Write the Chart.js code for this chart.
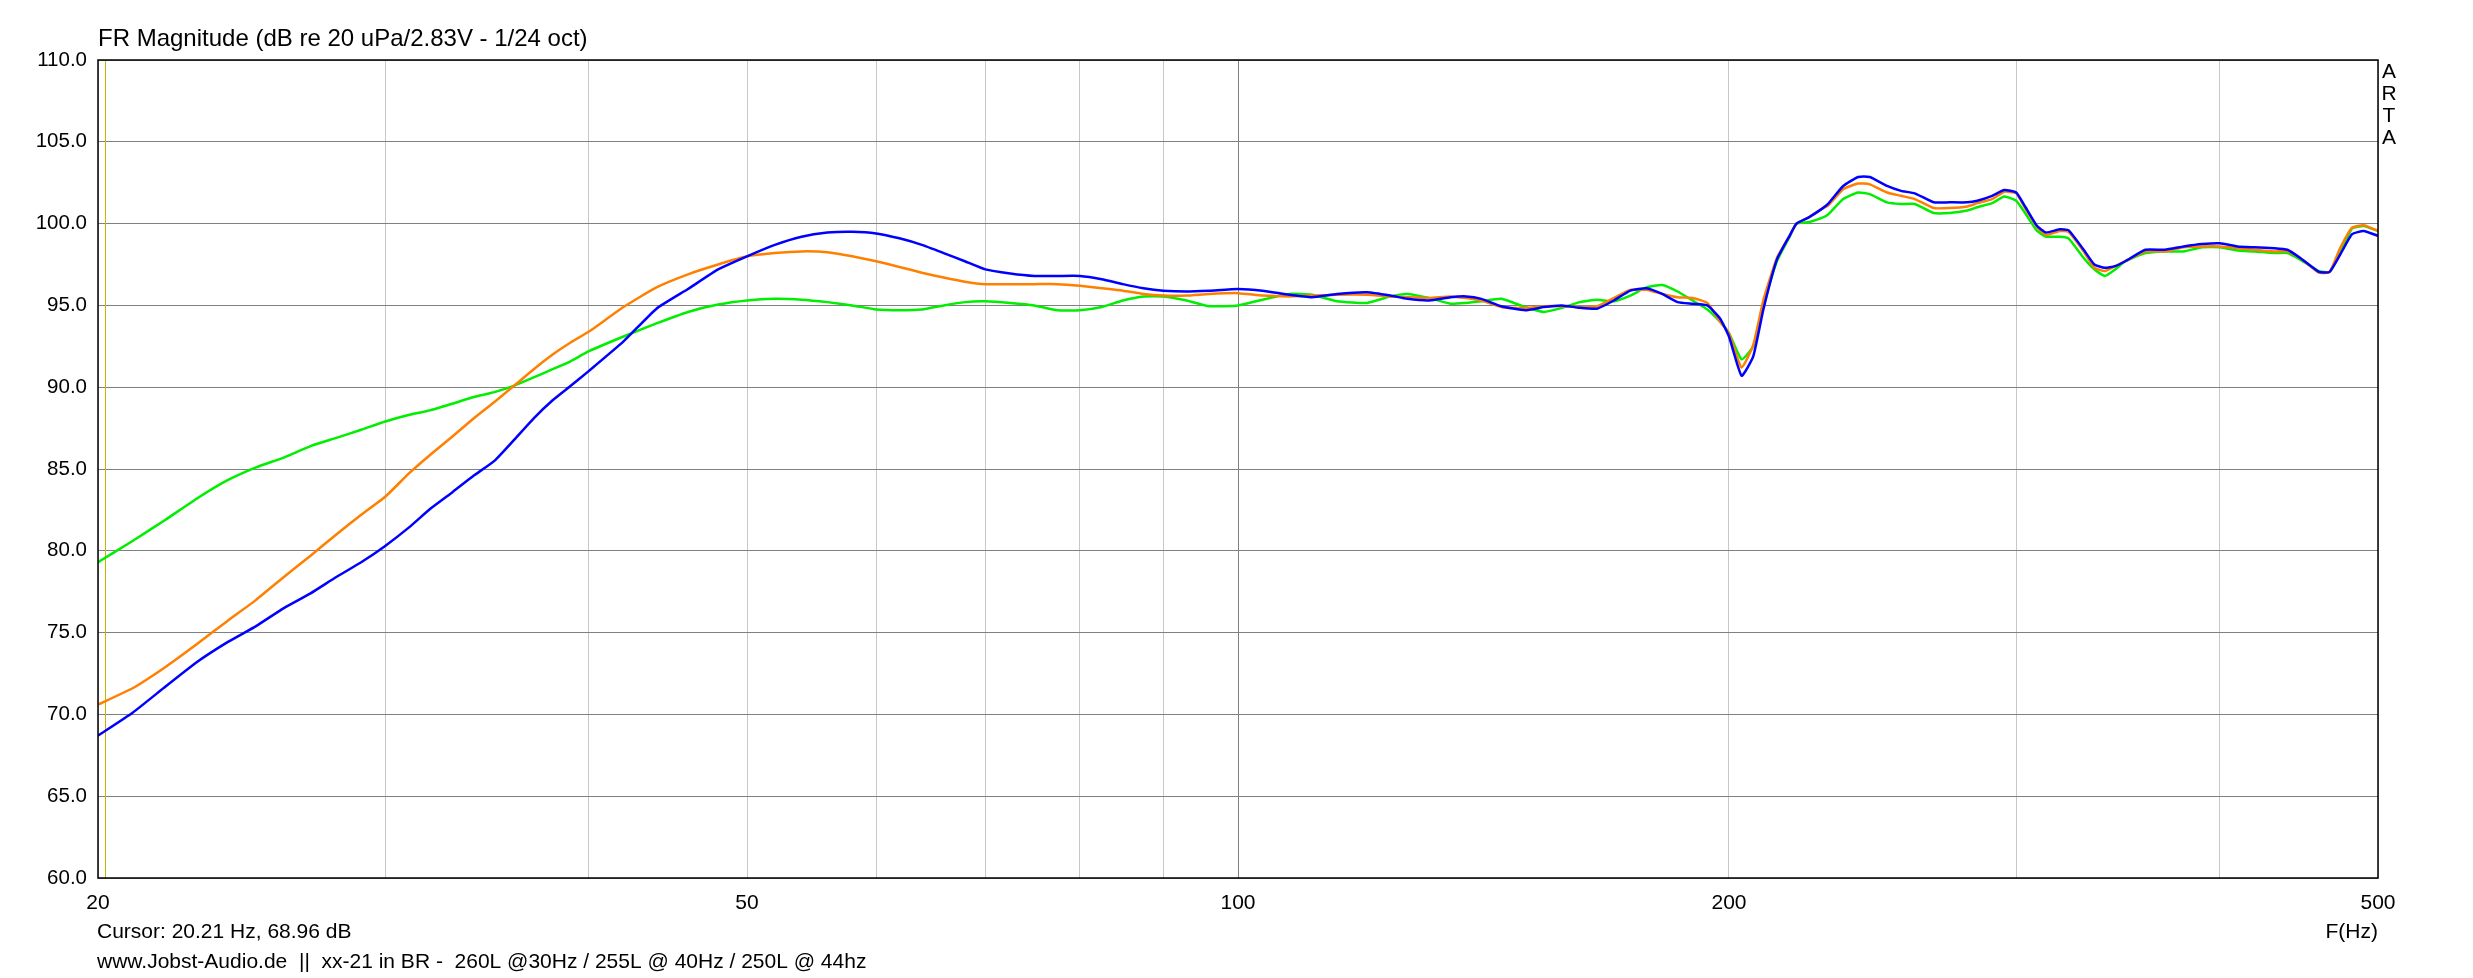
<!DOCTYPE html>
<html>
<head>
<meta charset="utf-8">
<script src="https://cdn.jsdelivr.net/npm/chart.js@4.4.1/dist/chart.umd.min.js"></script>
<style>
    html, body { margin: 0; padding: 0; background: #ffffff; }
    canvas { display: block; }
</style>
</head>
<body>
<canvas id="frChart" width="2473" height="978"></canvas>
<script>
// Frequency points (Hz)
const freqHz = [
    20, 21, 22, 23, 24, 25, 26, 27, 28, 29, 30, 31, 32, 33, 34, 35, 36, 37, 38, 39, 40,
    42, 44, 46, 48, 50, 52, 54, 56, 58, 60, 62, 64, 66, 68, 70,
    72.5, 75, 77.5, 80, 82.5, 85, 87.5, 90, 93, 96, 100,
    103.5, 107.5, 111, 115, 120, 124, 127, 131, 135, 138, 141, 145, 150, 154, 158, 162, 166, 170, 174, 178, 182, 186, 190, 194, 197.5, 200,
    203.6, 207, 210, 214, 218, 220, 224, 228, 230, 235, 240, 244, 250, 255, 260, 267, 273, 280, 284, 290, 295, 300,
    304, 309, 313, 319, 323, 330, 335, 340, 345, 350, 360, 370, 380, 390, 400, 410, 420, 432, 440, 448, 460, 467, 474, 482, 490, 500
];

// dB values, one per frequency point
const blueDb = [
    68.7, 70.1, 71.7, 73.2, 74.4, 75.4, 76.5, 77.4, 78.4, 79.3, 80.3, 81.4, 82.6, 83.6, 84.6, 85.5, 86.8, 88.1, 89.2, 90.1, 91.0,
    92.8, 94.8, 96.0, 97.2, 98.0, 98.7, 99.2, 99.45, 99.5, 99.4, 99.1, 98.7, 98.2, 97.7, 97.2,
    96.95, 96.8, 96.8, 96.8, 96.6, 96.3, 96.05, 95.9, 95.85, 95.9, 96.0,
    95.9, 95.65, 95.5, 95.7, 95.8, 95.6, 95.4, 95.3, 95.5, 95.55, 95.4, 94.95, 94.7, 94.9, 95.0, 94.85, 94.8, 95.3, 95.9, 96.05, 95.7, 95.2, 95.1, 95.0, 94.2, 93.1,
    90.7, 91.9, 94.8, 97.8, 99.3, 100.0, 100.4, 100.9, 101.2, 102.3, 102.85, 102.85, 102.3, 102.0, 101.85, 101.3, 101.3, 101.3, 101.4, 101.7, 102.05, 101.9,
    101.0, 99.85, 99.45, 99.65, 99.6, 98.4, 97.5, 97.3, 97.4, 97.7, 98.4, 98.4, 98.6, 98.75, 98.8, 98.6, 98.55, 98.5, 98.4, 97.9, 97.05, 97.05, 98.1, 99.35, 99.55, 99.25
];
const orangeDb = [
    70.6, 71.6, 72.9, 74.3, 75.7, 77.0, 78.4, 79.7, 81.0, 82.2, 83.3, 84.7, 85.9, 87.0, 88.1, 89.1, 90.1, 91.1, 92.0, 92.75, 93.4,
    94.9, 96.1, 96.9, 97.5, 98.0, 98.2, 98.3, 98.25, 98.0, 97.7, 97.35, 97.0, 96.7, 96.45, 96.3,
    96.3, 96.3, 96.3, 96.2, 96.05, 95.9, 95.7, 95.6, 95.6, 95.7, 95.75,
    95.6, 95.55, 95.6, 95.65, 95.65, 95.55, 95.5, 95.45, 95.55, 95.45, 95.3, 94.9, 94.85, 94.95, 94.95, 94.9, 94.95, 95.45, 95.95, 95.95, 95.7, 95.5, 95.45, 95.15, 94.0, 93.3,
    91.2, 92.6, 95.35, 97.9, 99.3, 100.0, 100.4, 100.9, 101.1, 102.1, 102.45, 102.4, 101.9, 101.7, 101.5, 100.95, 100.95, 101.05, 101.25, 101.5, 101.95, 101.85,
    100.9, 99.8, 99.3, 99.55, 99.5, 98.3, 97.3, 97.1, 97.4, 97.7, 98.3, 98.3, 98.55, 98.6, 98.6, 98.5, 98.4, 98.3, 98.3, 97.9, 97.0, 97.05, 98.5, 99.75, 99.9, 99.55
];
const greenDb = [
    79.3, 80.6, 81.9, 83.2, 84.3, 85.1, 85.7, 86.4, 86.9, 87.4, 87.9, 88.3, 88.6, 89.0, 89.4, 89.7, 90.1, 90.6, 91.1, 91.6, 92.2,
    93.1, 93.9, 94.6, 95.05, 95.3, 95.4, 95.35, 95.2, 95.0, 94.75, 94.7, 94.75, 95.0, 95.2, 95.25,
    95.15, 95.0, 94.7, 94.7, 94.9, 95.3, 95.55, 95.55, 95.3, 94.95, 95.0,
    95.35, 95.7, 95.65, 95.25, 95.15, 95.55, 95.7, 95.45, 95.1, 95.15, 95.25, 95.4, 94.9, 94.6, 94.85, 95.2, 95.35, 95.25, 95.6, 96.1, 96.25, 95.85, 95.3, 94.75, 94.0, 93.3,
    91.7, 92.5, 95.0, 97.7, 99.25, 100.0, 100.1, 100.35, 100.55, 101.5, 101.9, 101.8, 101.3, 101.2, 101.2, 100.65, 100.65, 100.8, 101.0, 101.25, 101.65, 101.4,
    100.6, 99.55, 99.2, 99.2, 99.1, 97.9, 97.2, 96.8, 97.2, 97.7, 98.2, 98.3, 98.3, 98.55, 98.55, 98.35, 98.3, 98.2, 98.2, 97.8, 97.1, 97.05, 98.2, 99.7, 99.85, 99.55
];

// Axis ticks
const xGridHz = [20, 30, 40, 50, 60, 70, 80, 90, 100, 200, 300, 400, 500];
const xLabelHz = [20, 50, 100, 200, 500];
const yMin = 60;
const yMax = 110;
const yStep = 5;

const cursorHz = 20.21;
const titleText = 'FR Magnitude (dB re 20 uPa/2.83V - 1/24 oct)';
const cursorText = 'Cursor: 20.21 Hz, 68.96 dB';
const footerText = 'www.Jobst-Audio.de  ||  xx-21 in BR -  260L @30Hz / 255L @ 40Hz / 250L @ 44hz';

const FONT = "'Liberation Sans', Arial, sans-serif";

function toPoints(values) {
    return freqHz.map((f, i) => ({ x: f, y: values[i] }));
}

// Frame, cursor line and the loose texts around the plot
const artaDecor = {
    id: 'artaDecor',
    beforeDatasetsDraw(chart) {
        const { ctx, chartArea, scales } = chart;
        const cx = Math.round(scales.x.getPixelForValue(cursorHz)) + 0.5;
        ctx.save();
        ctx.strokeStyle = '#c8b400';
        ctx.lineWidth = 1;
        ctx.beginPath();
        ctx.moveTo(cx, chartArea.top);
        ctx.lineTo(cx, chartArea.bottom);
        ctx.stroke();
        ctx.restore();
    },
    afterDraw(chart) {
        const { ctx, chartArea } = chart;
        ctx.save();
        ctx.strokeStyle = '#000000';
        ctx.lineWidth = 1.5;
        ctx.strokeRect(chartArea.left, chartArea.top, chartArea.right - chartArea.left, chartArea.bottom - chartArea.top);

        ctx.fillStyle = '#000000';
        ctx.textBaseline = 'middle';
        ctx.textAlign = 'left';
        ctx.font = '24px ' + FONT;
        ctx.fillText(titleText, chartArea.left, 39);

        ctx.font = '21px ' + FONT;
        ctx.fillText(cursorText, chartArea.left - 1, 932);
        ctx.fillText(footerText, chartArea.left - 1, 962);

        ctx.textAlign = 'right';
        ctx.fillText('F(Hz)', chartArea.right, 932);

        ctx.textAlign = 'center';
        ['A', 'R', 'T', 'A'].forEach((ch, i) => {
            ctx.fillText(ch, chartArea.right + 11, 72 + i * 22);
        });
        ctx.restore();
    }
};

new Chart(document.getElementById('frChart'), {
    type: 'line',
    data: {
        datasets: [
            {
                label: 'blue',
                data: toPoints(blueDb),
                borderColor: '#0000ff',
                borderWidth: 2.5,
                pointRadius: 0,
                tension: 0.15,
                fill: false
            },
            {
                label: 'orange',
                data: toPoints(orangeDb),
                borderColor: '#ff8000',
                borderWidth: 2.5,
                pointRadius: 0,
                tension: 0.15,
                fill: false
            },
            {
                label: 'green',
                data: toPoints(greenDb),
                borderColor: '#00ee00',
                borderWidth: 2.5,
                pointRadius: 0,
                tension: 0.15,
                fill: false
            }
        ]
    },
    options: {
        responsive: false,
        animation: false,
        devicePixelRatio: 1,
        layout: {
            padding: { top: 60, right: 95, left: 0, bottom: 0 }
        },
        plugins: {
            legend: { display: false },
            tooltip: { enabled: false }
        },
        scales: {
            x: {
                type: 'logarithmic',
                min: 20,
                max: 500,
                afterBuildTicks: (axis) => {
                    axis.ticks = xGridHz.map(v => ({ value: v }));
                },
                afterFit: (axis) => { axis.height = 100; },
                ticks: {
                    autoSkip: false,
                    maxRotation: 0,
                    padding: 13,
                    color: '#000000',
                    font: { family: FONT, size: 21 },
                    callback: (value) => xLabelHz.includes(value) ? String(value) : ''
                },
                grid: {
                    drawTicks: false,
                    color: (ctx) => (ctx.tick && ctx.tick.value === 100) ? '#808080' : '#c8c8c8',
                    lineWidth: 1
                },
                border: { display: false }
            },
            y: {
                min: yMin,
                max: yMax,
                afterFit: (axis) => { axis.width = 98; },
                ticks: {
                    stepSize: yStep,
                    padding: 11,
                    color: '#000000',
                    font: { family: FONT, size: 20.5 },
                    callback: (value) => Number(value).toFixed(1)
                },
                grid: {
                    drawTicks: false,
                    color: '#808080',
                    lineWidth: 1
                },
                border: { display: false }
            }
        }
    },
    plugins: [artaDecor]
});
</script>
</body>
</html>
